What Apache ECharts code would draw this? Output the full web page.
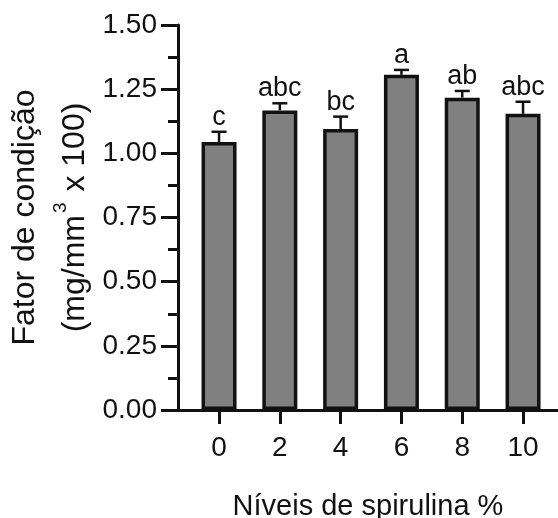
<!DOCTYPE html>
<html>
<head>
<meta charset="utf-8">
<script src="https://cdn.jsdelivr.net/npm/echarts@6/dist/echarts.min.js"></script>
<style>
html,body{margin:0;padding:0;background:#fff;}
#chart{width:558px;height:518px;}
</style>
</head>
<body>
<div id="chart"></div>
<script>
// Data
var levels = [0, 2, 4, 6, 8, 10];
var means = [1.044, 1.167, 1.095, 1.306, 1.217, 1.154];
var errors = [0.040, 0.028, 0.048, 0.019, 0.026, 0.047];
var letters = ['c', 'abc', 'bc', 'a', 'ab', 'abc'];
var xTitle = 'Níveis de spirulina %';
var yTitle1 = 'Fator de condição';

var FONT = 'Liberation Sans, Arial, Helvetica, sans-serif';
var INK = '#111111';

var barData = levels.map(function (l, i) { return [l, means[i]]; });
var errData = levels.map(function (l, i) { return [l, means[i], errors[i]]; });

var chart = echarts.init(document.getElementById('chart'), null, {renderer: 'canvas'});
chart.setOption({
  animation: false,
  backgroundColor: '#ffffff',
  textStyle: {fontFamily: FONT, color: INK},
  grid: {left: 178, right: 0, top: 25, bottom: 108, containLabel: false, outerBoundsMode: 'none'},
  xAxis: {
    type: 'value',
    min: -1.35,
    max: 11.15,
    name: xTitle,
    nameLocation: 'middle',
    nameGap: 82,
    nameTextStyle: {fontFamily: FONT, fontSize: 29, color: INK},
    splitLine: {show: false},
    axisLine: {show: true, onZero: false, lineStyle: {color: INK, width: 3}},
    axisTick: {show: true, customValues: levels, length: 14, lineStyle: {color: INK, width: 3}},
    axisLabel: {show: true, customValues: levels, margin: 24, fontFamily: FONT, fontSize: 28, color: INK,
      formatter: function (v) { return String(v); }}
  },
  yAxis: {
    type: 'value',
    min: 0,
    max: 1.5,
    interval: 0.25,
    name: '{t|' + yTitle1 + '}\n{t|(mg/mm}{s|3}{t| x 100)}',
    nameLocation: 'middle',
    nameRotate: 90,
    nameGap: 73,
    nameTextStyle: {
      fontFamily: FONT, color: INK,
      rich: {
        t: {fontFamily: FONT, fontSize: 32, color: INK, lineHeight: 50},
        s: {fontFamily: FONT, fontSize: 19, color: INK, lineHeight: 19, verticalAlign: 'top', padding: [1, 2, 0, 2]}
      }
    },
    splitLine: {show: false},
    axisLine: {show: true, onZero: false, lineStyle: {color: INK, width: 3}},
    axisTick: {show: true, length: 17, lineStyle: {color: INK, width: 3}},
    minorTick: {show: true, splitNumber: 2, length: 10, lineStyle: {color: INK, width: 3}},
    minorSplitLine: {show: false},
    axisLabel: {margin: 21, fontFamily: FONT, fontSize: 28, color: INK,
      formatter: function (v) { return v.toFixed(2); }}
  },
  series: [
    {
      type: 'bar',
      data: barData,
      barWidth: 35,
      itemStyle: {color: '#808080', borderColor: INK, borderWidth: 3.5},
      z: 2
    },
    {
      type: 'custom',
      data: errData,
      z: 3,
      renderItem: function (params, api) {
        var x = api.value(0), m = api.value(1), e = api.value(2);
        var base = api.coord([x, m]);
        var top = api.coord([x, m + e]);
        var hw = 7.5;
        var st = {stroke: INK, lineWidth: 2.5};
        return {
          type: 'group',
          children: [
            {type: 'line', shape: {x1: base[0], y1: base[1], x2: top[0], y2: top[1]}, style: st},
            {type: 'line', shape: {x1: top[0] - hw, y1: top[1], x2: top[0] + hw, y2: top[1]}, style: st},
            {type: 'text', x: top[0], y: top[1] - 1, style: {
              text: letters[params.dataIndex], fontFamily: FONT, fontSize: 27, fill: INK,
              align: 'center', verticalAlign: 'bottom'}}
          ]
        };
      }
    }
  ]
});
</script>
</body>
</html>
